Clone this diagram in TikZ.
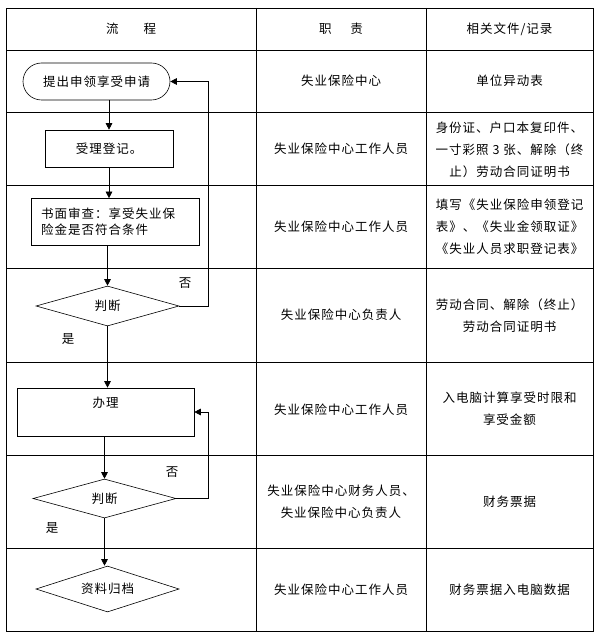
\documentclass[tikz,border=0pt]{standalone}
\usepackage{fontspec}
\setmainfont{Noto Sans CJK SC}[LetterSpace=8]
\usepackage{tikz}
\usetikzlibrary{positioning,arrows.meta,shapes.geometric,shapes.misc}

\begin{document}
\begin{tikzpicture}[
  x=1pt, y=-1pt,
  font=\fontsize{12.5}{22}\selectfont,
  every node/.style={align=center, inner sep=2pt},
  grid/.style ={line width=0.8pt},
  term/.style ={draw, rounded rectangle, minimum width=151pt, minimum height=37pt,
                line width=0.6pt},
  proc/.style ={draw, rectangle, line width=0.6pt},
  dec/.style  ={draw, diamond, aspect=3.5, inner sep=0pt, minimum width=143pt,
                line width=0.6pt},
  arr/.style  ={-{Triangle[length=6.5pt,width=6.5pt]}, line width=0.6pt}
]
\useasboundingbox (0,0) rectangle (598,636);

% --- Table frame ---
\draw[grid] (6,8) rectangle (593,631);
\foreach \yy in {50,112,185,268,362,455,548}
  \draw[grid] (6,\yy) -- (593,\yy);
\foreach \xx in {256,426}
  \draw[grid] (\xx,8) -- (\xx,631);

% --- Header row ---
\node (hflow) at (131,29)   {流\hspace{2em}程};
\node (hduty) at (341,29)   {职\hspace{1.5em}责};
\node (hdoc)  at (509.5,29) {相关文件/记录};

% --- Duty column (x = 341) and records column (x = 509.5) ---
\node (d1) at (341,81)    {失业保险中心};
\node (f1) at (509.5,81)  {单位异动表};
\node (d2) at (341,149)   {失业保险中心工作人员};
\node (f2) at (509.5,150) {身份证、户口本复印件、\\一寸彩照 3 张、解除（终\\止）劳动合同证明书};
\node (d3) at (341,227)   {失业保险中心工作人员};
\node (f3) at (509.5,227) {填写《失业保险申领登记\\表》、《失业金领取证》\\《失业人员求职登记表》};
\node (d4) at (341,315)   {失业保险中心负责人};
\node (f4) at (509.5,316) {劳动合同、解除（终止）\\劳动合同证明书};
\node (d5) at (341,410)   {失业保险中心工作人员};
\node (f5) at (509.5,409) {入电脑计算享受时限和\\享受金额};
\node (d6) at (341,502)   {失业保险中心财务人员、\\失业保险中心负责人};
\node (f6) at (509.5,502) {财务票据};
\node (d7) at (341,590)   {失业保险中心工作人员};
\node (f7) at (509.5,590) {财务票据入电脑数据};

% --- Flow column ---
\node[term] (apply)  at (96.5,81.5) {提出申领享受申请};
\node[proc, minimum width=128pt, minimum height=37pt] (accept) at (109,148.5) {受理登记。};
\node[proc, minimum width=168pt, minimum height=47pt, text width=148pt, align=left,
      font=\fontsize{12.5}{16}\selectfont] (review) at (115,222)
      {书面审查：享受失业保\\险金是否符合条件};
\node[dec, minimum height=40pt] (judge1) at (107.5,306) {判断};
\node[proc, minimum width=177pt, minimum height=48pt, text depth=20pt] (handle) at (105.5,412) {办理};
\node[dec, minimum height=39pt] (judge2) at (104.5,498.5) {判断};
\node[dec, minimum height=46pt] (archive) at (107.5,589) {资料归档};

% --- Branch labels ---
\node (no1)  at (185,283) {否};
\node (yes1) at (68,339)  {是};
\node (no2)  at (172,472) {否};
\node (yes2) at (52,528)  {是};

% --- Connectors ---
\draw[arr] (apply.south -| accept.north) -- (accept.north);
\draw[arr] (accept.south) -- (accept.south |- review.north);
\draw[arr] (review.south -| judge1.north) -- (judge1.north);
\coordinate (back1) at (208,306);
\draw[arr] (judge1.east) -- (back1) |- (apply.east);
\draw[arr] (judge1.south) -- (judge1.south |- handle.north);
\draw[arr] (handle.south -| judge2.north) -- (judge2.north);
\coordinate (back2) at (208,498.5);
\draw[arr] (judge2.east) -- (back2) |- (handle.east);
\draw[arr] (judge2.south) -- (judge2.south |- archive.north);

\end{tikzpicture}
\end{document}
